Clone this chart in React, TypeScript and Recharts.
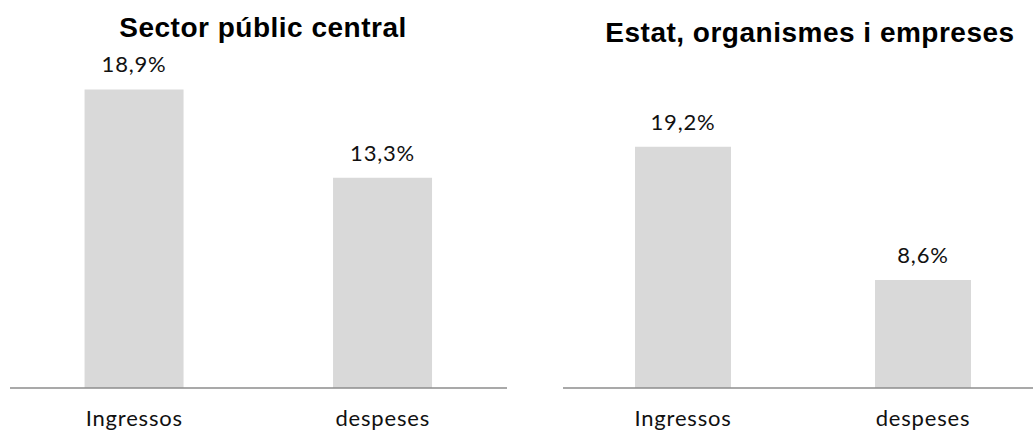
import { BarChart, Bar, XAxis, YAxis, LabelList } from "recharts";

const categories = ["Ingressos", "despeses"];
const sectorPublicValues = [18.9, 13.3];
const estatValues = [19.2, 8.6];
const sectorPublicTitle = "Sector públic central";
const estatTitle = "Estat, organismes i empreses";

const fmt = (v: number) => v.toFixed(1).replace(".", ",") + "%";

const labelFont = { fontFamily: "Lato", fontSize: 22, fill: "#111", letterSpacing: 0.8 };

function Panel({ values, width, margin, yMax }: { values: number[]; width: number; margin: any; yMax: number }) {
  const data = categories.map((name, i) => ({ name, value: values[i] }));
  return (
    <BarChart width={width} height={439} data={data} margin={margin} barCategoryGap="30%">
      <XAxis
        dataKey="name"
        height={40}
        tickLine={false}
        tickSize={0}
        tickMargin={22}
        axisLine={{ stroke: "#8c8c8c", strokeWidth: 1.5 }}
        tick={labelFont}
        interval={0}
      />
      <YAxis hide domain={[0, yMax]} />
      <Bar dataKey="value" fill="#d9d9d9" isAnimationActive={false}>
        <LabelList dataKey="value" position="top" offset={17} formatter={fmt} style={labelFont} />
      </Bar>
    </BarChart>
  );
}

const titleStyle: React.CSSProperties = {
  position: "absolute",
  textAlign: "center",
  fontFamily: "'Liberation Sans', Arial, sans-serif",
  fontWeight: "bold",
  fontSize: 28,
  lineHeight: "28px",
  letterSpacing: 0.5,
  color: "#000",
  whiteSpace: "nowrap",
};

export default function App() {
  return (
    <div style={{ position: "absolute", left: 0, top: 0, width: 1033, height: 439, overflow: "hidden", background: "#fff" }}>
      <div style={{ position: "absolute", left: 0, top: 0, width: 520, height: 439 }}>
        <Panel values={sectorPublicValues} width={520} margin={{ top: 72, right: 13, left: 10, bottom: 11 }} yMax={20} />
      </div>
      <div style={{ position: "absolute", left: 520, top: 0, width: 513, height: 439, overflow: "hidden" }}>
        <Panel values={estatValues} width={530} margin={{ top: 74, right: 7, left: 43, bottom: 11 }} yMax={25} />
      </div>
      <div style={{ ...titleStyle, left: 0, width: 526, top: 14 }}>{sectorPublicTitle}</div>
      <div style={{ ...titleStyle, left: 520, width: 580, top: 19 }}>{estatTitle}</div>
    </div>
  );
}
